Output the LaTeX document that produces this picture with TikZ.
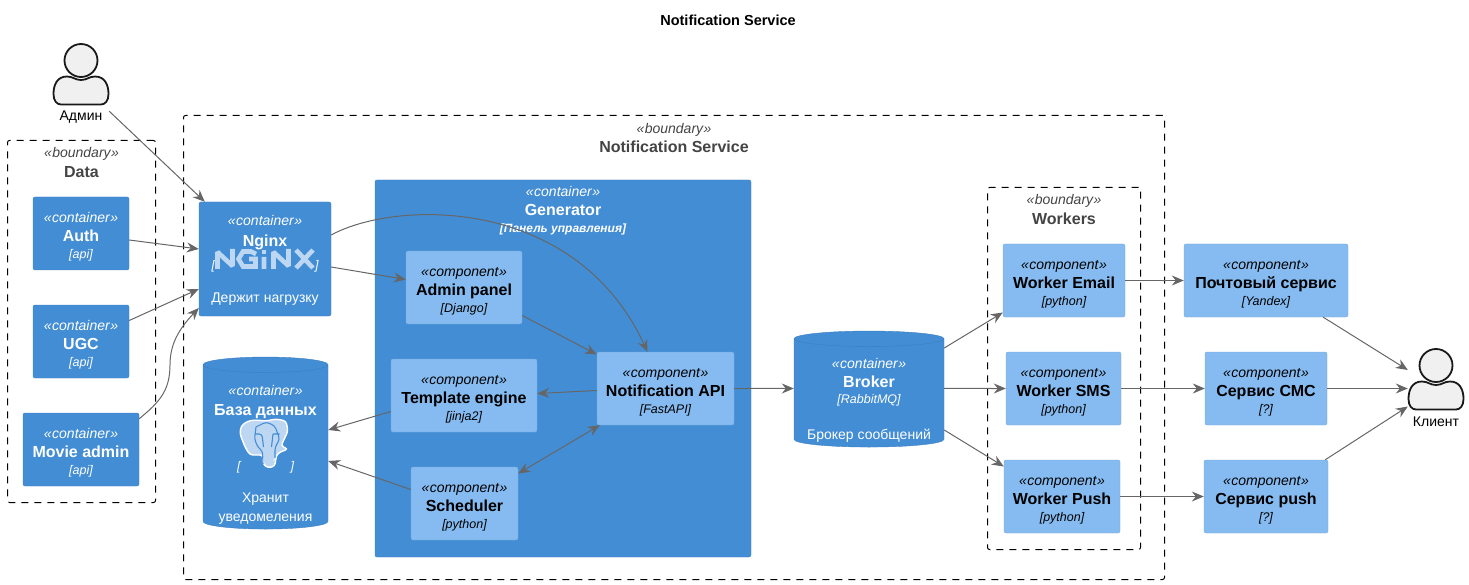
\documentclass[tikz,border=0pt]{standalone}
\usepackage{fontspec}
\setmainfont{Liberation Sans}
\usetikzlibrary{arrows.meta,shapes.geometric}
\definecolor{contblue}{HTML}{438DD5}
\definecolor{contline}{HTML}{3C7FC0}
\definecolor{compblue}{HTML}{85BBF0}
\definecolor{compline}{HTML}{78A8D8}
\definecolor{conngray}{HTML}{666666}
\definecolor{bndtext}{HTML}{444444}
\definecolor{logoblue}{HTML}{BDD7F2}
\newcommand{\stereo}[1]{{\rule{0pt}{17pt}\fontsize{14}{18}\selectfont\itshape «\kern.5pt #1\kern.5pt»}}
\newcommand{\nm}[1]{\raisebox{-.3pt}{\fontsize{16}{18}\selectfont\bfseries #1}}
\newcommand{\tech}[1]{\raisebox{1pt}{\fontsize{12.5}{18}\selectfont\itshape [#1]}}
\newcommand{\descr}[1]{{\fontsize{14}{18}\selectfont #1}}
\newcommand{\dbspace}{\phantom{\rule{110pt}{80pt}}}
\tikzset{
  basebox/.style={rectangle,rounded corners=2pt,inner sep=0pt,align=center,font=\fontsize{14}{18.5}\selectfont},
  containerbox/.style={basebox,fill=contblue,draw=contline,text=white},
  componentbox/.style={basebox,fill=compblue,draw=compline,text=black},
  dbbox/.style={cylinder,shape border rotate=90,aspect=.14,inner sep=0pt,fill=contblue,draw=contline},
  dbtext/.style={align=center,inner sep=0pt,text=white,font=\fontsize{14}{18.5}\selectfont},
  boundarybox/.style={rectangle,rounded corners=2pt,draw=black,line width=1pt,outer sep=0pt,dash pattern=on 7pt off 6pt,inner sep=0pt},
  boundarytext/.style={align=center,inner sep=0pt,text=bndtext,font=\fontsize{14}{18.5}\selectfont},
  conn/.style={draw=conngray,line width=1pt,-{Stealth[length=12pt,width=10pt,inset=4pt]}},
  personbox/.style={rectangle,inner sep=0pt,minimum width=56pt,minimum height=66pt},
  personfig/.pic={
    \draw[line width=1.8pt,draw=black!90,fill=black!6] (0,-17.5) circle (16.5pt);
    \draw[line width=1.8pt,draw=black!90,fill=black!6]
      (-27.5,16) .. controls (-27.5,7) and (-24,-1.5) .. (-14,-1.5)
      .. controls (-8,-1.5) and (-6,2) .. (0,2)
      .. controls (6,2) and (8,-1.5) .. (14,-1.5)
      .. controls (24,-1.5) and (27.5,7) .. (27.5,16)
      .. controls (27.5,23) and (24,26.5) .. (20,26.5) -- (-20,26.5)
      .. controls (-24,26.5) and (-27.5,23) .. (-27.5,16) -- cycle;
  }
}
\begin{document}
\begin{tikzpicture}[x=1pt,y=-1pt]
  \useasboundingbox (0,0) rectangle (1469,585);

  % title
  \node (title) at (728,20) {\fontsize{14.5}{18}\selectfont\bfseries Notification Service};

  % boundaries
  \node[boundarybox,minimum width=981pt,minimum height=464pt] (service) at (674,347.5) {};
  \node[boundarybox,minimum width=148pt,minimum height=362pt] (data) at (81.5,321.5) {};
  \node[boundarybox,minimum width=153pt,minimum height=362pt] (workers) at (1064,368.5) {};
  \node[boundarytext] (servicetext) at (674,134.5) {\stereo{boundary}\\[1pt] \nm{Notification Service}};
  \node[boundarytext] (datatext) at (81.5,159) {\stereo{boundary}\\[1pt] \nm{Data}};
  \node[boundarytext] (workerstext) at (1064,206) {\stereo{boundary}\\[1pt] \nm{Workers}};

  % people
  \node[personbox] (admin) at (81,78) {};
  \node[personbox] (client) at (1436,383) {};
  \pic at (81,78) {personfig};
  \pic at (1436,383) {personfig};
  \node (admintext) at (81,117) {\fontsize{14}{18}\selectfont Админ};
  \node (clienttext) at (1436,421.5) {\fontsize{14}{18}\selectfont Клиент};

  % data
  \node[containerbox,minimum width=96pt,minimum height=73pt] (auth) at (81,233.5) {\stereo{container}\\ \nm{Auth}\\ \tech{api}};
  \node[containerbox,minimum width=96pt,minimum height=73pt] (ugc) at (81,341.5) {\stereo{container}\\ \nm{UGC}\\ \tech{api}};
  \node[containerbox,minimum width=116pt,minimum height=73pt] (movie) at (81,449.5) {\stereo{container}\\ \nm{Movie admin}\\ \tech{api}};

  % nginx and database
  \node[containerbox,minimum width=132pt,minimum height=114pt] (nginx) at (265,259) {\stereo{container}\\[1.5pt] \nm{Nginx}\\[6.5pt] \tech{\hspace{100pt}}\\[13pt] \descr{Держит нагрузку}\rule[-7pt]{0pt}{1pt}};
  \node[dbbox,minimum width=125pt,minimum height=172pt] (db) at (265.5,447) {\dbspace};
  \node[dbtext] (dbtext) at (265.5,451) {\stereo{container}\\[2pt] \nm{База данных}\\[37pt] \tech{\hspace{50pt}}\\[13pt] \descr{Хранит}\\ \descr{уведомеления}};

  % nginx logo
  \draw[logoblue,line width=4.6pt,miter limit=2]
    (217.5,269) -- (217.5,252) -- (232.5,266) -- (232.5,249)
    (256,254) -- (251,251.5) -- (243,251.5) -- (238.5,259) -- (243,266.5) -- (255.5,266.5) -- (255.5,259) -- (249,259)
    (264,257) -- (264,269)
    (273.5,269) -- (273.5,252) -- (288.5,266) -- (288.5,249)
    (296,250) -- (313,268) (313,250) -- (296,268);
  \fill[logoblue] (261.7,250) rectangle (266.3,254);

  % postgres elephant
  \draw[white,line width=1.4pt,fill=logoblue,rounded corners=3pt]
    (256,420) -- (248,421) -- (241,426) -- (240,434) -- (245,447) -- (250,455) -- (258,455) -- (263,455)
    -- (263,464) -- (268,468) -- (275,466) -- (276,457) -- (278,453) -- (288,449) -- (281,446)
    -- (288,431) -- (286,421) -- (276,419) -- (266,421) -- cycle;
  \draw[contblue,line width=1.1pt,rounded corners=3pt]
    (256,427) -- (254.5,439) -- (258,447.5) -- (262.5,451) -- (263,464)
    (256,427) -- (266,422) -- (274.7,425.7) -- (279.7,439) -- (275,447.5) -- (275,458)
    (255,434) -- (262,434) -- (263.5,447)
    (273,434) -- (279.5,434) (273,434) -- (271.5,447);

  % generator
  \node[containerbox,minimum width=376pt,minimum height=377pt] (generator) at (563,368.5) {};
  \node[align=center,inner sep=0pt,text=white,font=\fontsize{14}{18.5}\selectfont] (generatortext) at (563,207.5) {\stereo{container}\\ \nm{Generator}\\[-1pt] {\fontsize{12}{14}\selectfont\bfseries\itshape [Панель управления]}};
  \node[componentbox,minimum width=116pt,minimum height=73pt] (adminpanel) at (464,287.5) {\stereo{component}\\ \nm{Admin panel}\\ \tech{Django}};
  \node[componentbox,minimum width=146pt,minimum height=73pt] (template) at (464,395.5) {\stereo{component}\\ \nm{Template engine}\\ \tech{jinja2}};
  \node[componentbox,minimum width=107pt,minimum height=73pt] (scheduler) at (464.5,503.5) {\stereo{component}\\ \nm{Scheduler}\\ \tech{python}};
  \node[componentbox,minimum width=137pt,minimum height=73pt] (api) at (665.5,388.5) {\stereo{component}\\ \nm{Notification API}\\ \tech{FastAPI}};

  % broker
  \node[dbbox,minimum width=150pt,minimum height=116pt] (broker) at (869,393) {\dbspace};
  \node[dbtext] (brokertext) at (869,397) {\stereo{container}\\ \nm{Broker}\\[-1pt] \tech{RabbitMQ}\\[16pt] \descr{Брокер сообщений}};

  % workers
  \node[componentbox,minimum width=122pt,minimum height=73pt] (email) at (1064,280.5) {\stereo{component}\\ \nm{Worker Email}\\ \tech{python}};
  \node[componentbox,minimum width=115pt,minimum height=73pt] (sms) at (1063.5,388.5) {\stereo{component}\\ \nm{Worker SMS}\\ \tech{python}};
  \node[componentbox,minimum width=116pt,minimum height=73pt] (push) at (1062,496.5) {\stereo{component}\\ \nm{Worker Push}\\ \tech{python}};

  % outer services
  \node[componentbox,minimum width=164pt,minimum height=73pt] (mail) at (1266,280.5) {\stereo{component}\\ \nm{Почтовый сервис}\\ \tech{Yandex}};
  \node[componentbox,minimum width=122pt,minimum height=73pt] (smsout) at (1266,388.5) {\stereo{component}\\ \nm{Сервис СМС}\\ \tech{?}};
  \node[componentbox,minimum width=124pt,minimum height=73pt] (pushout) at (1266,496.5) {\stereo{component}\\ \nm{Сервис push}\\ \tech{?}};

  % connectors
  \draw[conn] (admin.south east) -- ([xshift=6pt]nginx.north west);
  \draw[conn] ([yshift=-6.5pt]auth.east) -- ([yshift=10pt]nginx.west);
  \draw[conn] ([yshift=21pt]ugc.east) -- ([yshift=-30pt]nginx.west);
  \draw[conn] ([yshift=-6pt]movie.north east) .. controls (158,403) and (170,392) .. (170,365)
    .. controls (170,345) and (178,330) .. ([yshift=-49pt]nginx.west);
  \draw[conn] ([yshift=-8pt]nginx.east) -- ([yshift=8pt]adminpanel.west);
  \draw[conn] ([yshift=24pt]nginx.east) .. controls (395,200) and (575,195) .. ([xshift=-18pt]api.north);
  \draw[conn] ([yshift=-28pt]adminpanel.east) -- ([yshift=34pt]api.west);
  \draw[conn] ([yshift=-2pt]api.west) -- ([yshift=2pt]template.east);
  \draw[conn] ([yshift=-16pt]template.west) -- ([yshift=17pt]db.east);
  \draw[conn] ([yshift=14pt]scheduler.west) -- ([yshift=-14pt]db.east);
  \draw[conn,{Stealth[length=12pt,width=10pt,inset=4pt]}-{Stealth[length=12pt,width=10pt,inset=4pt]}] ([yshift=30pt]scheduler.east) -- ([xshift=3pt]api.south west);
  \draw[conn] (api.east) -- ([yshift=4.5pt]broker.west);
  \draw[conn] ([yshift=45pt]broker.east) -- ([yshift=-32pt]email.west);
  \draw[conn] ([yshift=4.5pt]broker.east) -- (sms.west);
  \draw[conn] ([yshift=-37pt]broker.east) -- ([yshift=30pt]push.west);
  \draw[conn] (email.east) -- (mail.west);
  \draw[conn] (sms.east) -- (smsout.west);
  \draw[conn] (push.east) -- (pushout.west);
  \draw[conn] ([xshift=-25pt]mail.south east) -- ([yshift=13pt]client.west);
  \draw[conn] (smsout.east) -- ([yshift=-5.5pt]client.west);
  \draw[conn] ([xshift=-3pt]pushout.north east) -- ([yshift=-23.5pt]client.west);
\end{tikzpicture}
\end{document}
